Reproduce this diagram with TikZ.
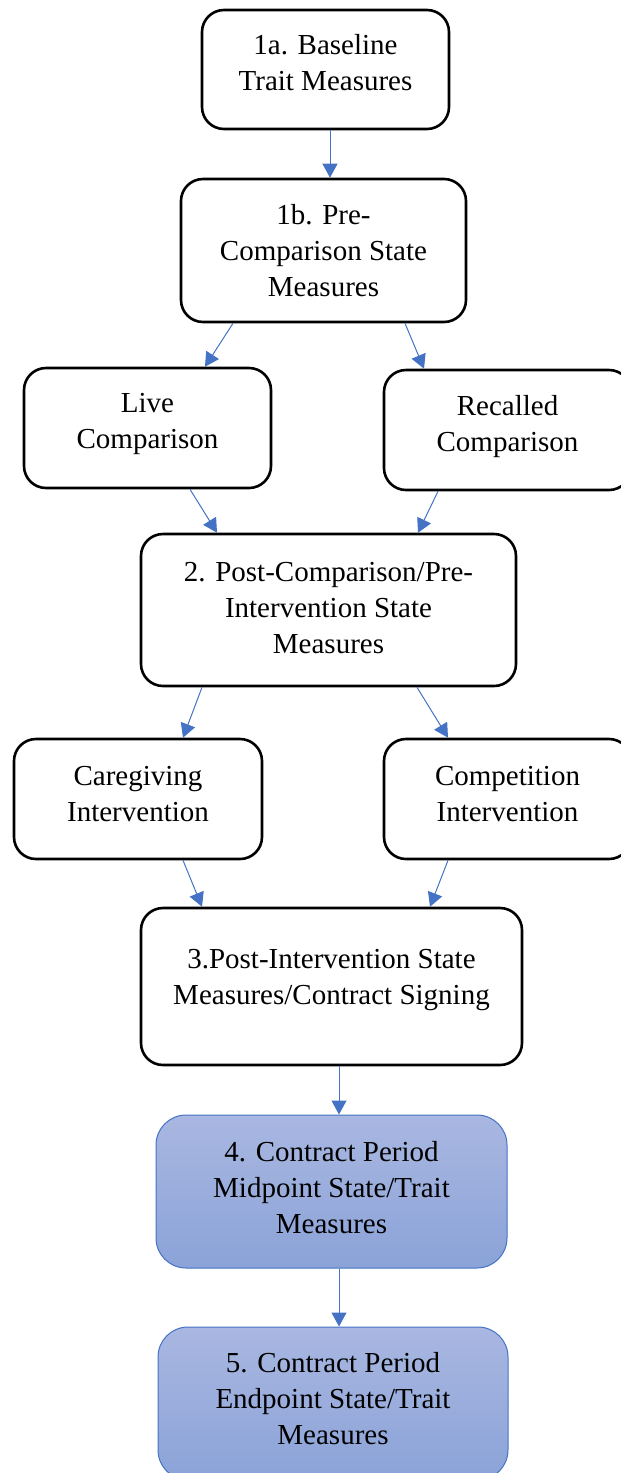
\documentclass[tikz,border=0pt]{standalone}
\usepackage{fontspec}
\setmainfont{Liberation Serif}
\usetikzlibrary{arrows.meta}
\definecolor{arrowblue}{HTML}{4472C4}
\definecolor{shtop}{HTML}{A9B7E1}
\definecolor{shbot}{HTML}{8BA3D8}
\tikzset{
  box/.style={draw=black, line width=2.6pt, rounded corners=22pt, fill=white,
    align=center, inner sep=0pt, font=\fontsize{29}{36}\selectfont},
  bluebox/.style={draw=arrowblue, line width=1pt, rounded corners=30pt,
    top color=shtop, bottom color=shbot,
    align=center, inner sep=0pt, font=\fontsize{29}{36}\selectfont},
  flow/.style={draw=arrowblue, line width=1pt, -{Triangle[length=14pt,width=15pt]}}
}
\begin{document}
\begin{tikzpicture}[x=1pt,y=-1pt]
\useasboundingbox (0,0) rectangle (621,1473);
\node[box, minimum width=247pt, minimum height=119pt, text depth=14pt] (a1) at (325.5,69.5) {1a. Baseline\\Trait Measures};
\node[box, minimum width=285pt, minimum height=143pt] (b1) at (323.5,250.5) {1b. Pre-\\Comparison State\\Measures};
\node[box, minimum width=247pt, minimum height=120pt, text depth=14pt] (live) at (147.5,428) {Live\\Comparison};
\node[box, minimum width=247pt, minimum height=120pt, text depth=12.5pt] (rec) at (507.5,430) {Recalled\\Comparison};
\node[box, minimum width=375pt, minimum height=152pt, text depth=4pt] (two) at (328.5,610) {2. Post-Comparison/Pre-\\Intervention State\\Measures};
\node[box, minimum width=248pt, minimum height=120pt, text depth=10pt] (care) at (138,799) {Caregiving\\Intervention};
\node[box, minimum width=247pt, minimum height=120pt, text depth=10pt] (comp) at (507.5,799) {Competition\\Intervention};
\node[box, minimum width=381pt, minimum height=157pt, text depth=20pt] (three) at (331.5,986.5) {3.Post-Intervention State\\Measures/Contract Signing};
\node[bluebox, minimum width=351pt, minimum height=153pt, text depth=8pt] (four) at (331.5,1191.5) {4. Contract Period\\Midpoint State/Trait\\Measures};
\node[bluebox, minimum width=350pt, minimum height=153pt, text depth=10pt] (five) at (333,1403.5) {5. Contract Period\\Endpoint State/Trait\\Measures};

\draw[flow] ([xshift=4.5pt]a1.south) -- ([xshift=6.5pt]b1.north);
\draw[flow] ([xshift=-90.5pt]b1.south) -- ([xshift=57.5pt]live.north);
\draw[flow] ([xshift=81.5pt]b1.south) -- ([xshift=-83.5pt]rec.north);
\draw[flow] ([xshift=42.5pt]live.south) -- ([xshift=-111.5pt]two.north);
\draw[flow] ([xshift=-69.5pt]rec.south) -- ([xshift=89.5pt]two.north);
\draw[flow] ([xshift=-126.5pt]two.south) -- ([xshift=45pt]care.north);
\draw[flow] ([xshift=88.5pt]two.south) -- ([xshift=-59.5pt]comp.north);
\draw[flow] ([xshift=45pt]care.south) -- ([xshift=-129.5pt]three.north);
\draw[flow] ([xshift=-59.5pt]comp.south) -- ([xshift=98.5pt]three.north);
\draw[flow] ([xshift=7.5pt]three.south) -- ([xshift=7.5pt]four.north);
\draw[flow] ([xshift=7.5pt]four.south) -- ([xshift=6pt]five.north);
\end{tikzpicture}
\end{document}
